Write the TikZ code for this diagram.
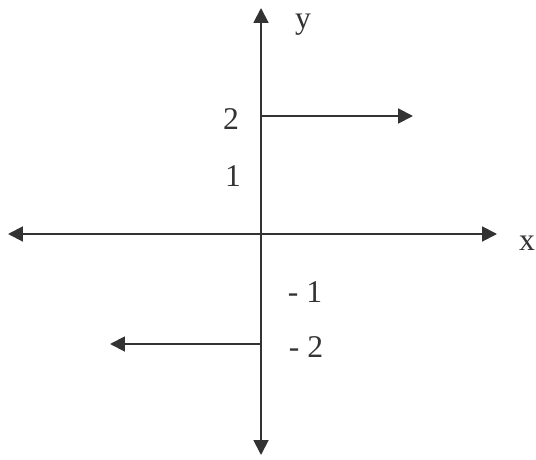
\documentclass[tikz,border=0pt]{standalone}
\usepackage{fontspec}
\setmainfont{Liberation Serif}
\usetikzlibrary{arrows.meta}

\begin{document}
\begin{tikzpicture}[
      every node/.style={font=\fontsize{18}{20}\selectfont, inner sep=0pt,
                         anchor=base},
      axis/.style={line width=1.1pt, color=black!80,
                   {Triangle[length=8.5pt, width=8.5pt]}-{Triangle[length=8.5pt, width=8.5pt]}},
      arr/.style={-{Triangle[length=8.5pt, width=8.5pt]}, line width=1.1pt,
                  color=black!80},
      lbl/.style={text=black!80},
    ]
    \useasboundingbox (0,0) rectangle (10.72,9.18);

    % ── Axes ────────────────────────────────────────────────
    \coordinate (o)      at (5.22,4.50);
    \coordinate (xleft)  at (0.16,4.50);
    \coordinate (xright) at (9.94,4.50);
    \coordinate (ytop)   at (5.22,9.02);
    \coordinate (ybot)   at (5.22,0.08);

    \draw[axis] (xleft) -- (xright);
    \draw[axis] (ybot) -- (ytop);

    \node[lbl] (xlab) at (10.54,4.18) {x};
    \node[lbl] (ylab) at (6.06,8.60) {y};

    % ── Tick labels ─────────────────────────────────────────
    \node[lbl] (two)    at (4.62,6.58) {2};
    \node[lbl] (one)    at (4.66,5.44) {1};
    \node[lbl] (mone)   at (6.10,3.14) {- 1};
    \node[lbl] (mtwo)   at (6.12,2.04) {- 2};

    % ── Rays ────────────────────────────────────────────────
    \coordinate (upstart) at (5.22,6.86);
    \coordinate (upend)   at (8.26,6.86);
    \coordinate (lostart) at (5.22,2.30);
    \coordinate (loend)   at (2.20,2.30);

    \draw[arr] (upstart) -- (upend);
    \draw[arr] (lostart) -- (loend);
  \end{tikzpicture}
\end{document}
